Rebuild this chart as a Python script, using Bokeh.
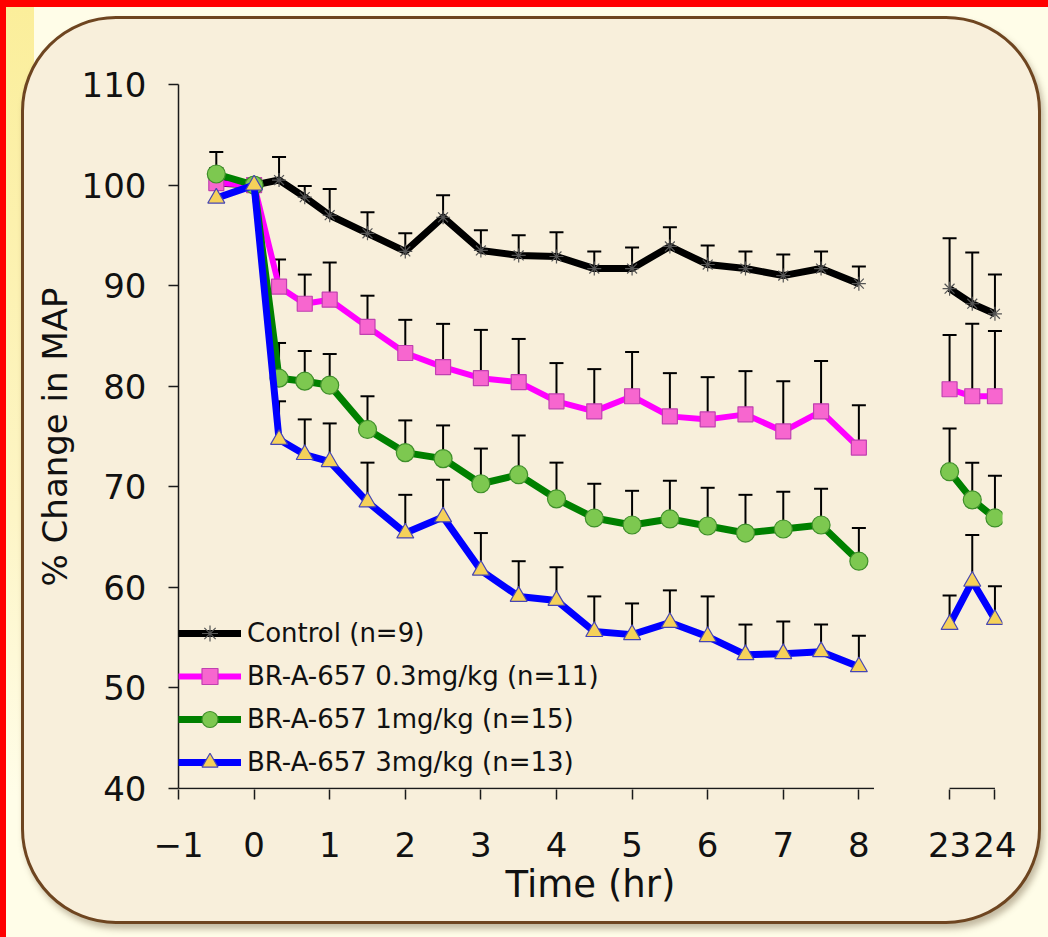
from bokeh.plotting import figure
from bokeh.layouts import column
from bokeh.models import (ColumnDataSource, Whisker, TeeHead, FixedTicker, Range1d)
from bokeh.embed import file_html
from bokeh.resources import INLINE

# ---------------- data ----------------
hours = [-0.5, 0, 0.33, 0.67, 1, 1.5, 2, 2.5, 3, 3.5, 4, 4.5, 5, 5.5, 6,
         6.5, 7, 7.5, 8, 23, 23.5, 24]

control_mean = [100.2, 100, 100.5, 98.8, 97.0, 95.2, 93.4, 96.8, 93.5, 93.0, 92.9,
                91.7, 91.7, 93.9, 92.1, 91.7, 91.0, 91.7, 90.2, 89.7, 88.2, 87.2]
control_sem = [1.5, 0, 2.3, 1.1, 2.6, 2.1, 1.8, 2.2, 2.0, 2.0, 2.4,
               1.7, 2.1, 1.9, 1.9, 1.7, 2.1, 1.7, 1.7, 5.0, 5.1, 3.9]

dose03_mean = [100.2, 100, 89.9, 88.2, 88.6, 85.9, 83.3, 81.9, 80.8, 80.4, 78.5,
               77.5, 79.0, 77.0, 76.7, 77.2, 75.5, 77.5, 73.9, 79.7, 79.0, 79.0]
dose03_sem = [0, 0, 2.7, 2.9, 3.7, 3.1, 3.3, 4.3, 4.8, 4.3, 3.8,
              4.2, 4.4, 4.3, 4.2, 4.3, 5.0, 5.0, 4.2, 5.4, 7.2, 6.5]

dose1_mean = [101.1, 100, 80.8, 80.5, 80.1, 75.7, 73.4, 72.8, 70.3, 71.2, 68.8,
              66.9, 66.2, 66.8, 66.1, 65.4, 65.8, 66.2, 62.6, 71.5, 68.7, 66.9]
dose1_sem = [2.2, 0, 3.5, 3.0, 3.1, 3.3, 3.2, 3.3, 3.5, 3.9, 3.6,
             3.4, 3.4, 3.8, 3.8, 3.8, 3.7, 3.6, 3.3, 4.3, 3.7, 4.2]

dose3_mean = [98.7, 100, 74.7, 73.2, 72.5, 68.5, 65.4, 67.0, 61.7, 59.1, 58.7,
              55.6, 55.3, 56.5, 55.1, 53.3, 53.4, 53.6, 52.1, 56.3, 60.6, 56.8]
dose3_sem = [0, 0, 3.8, 3.5, 3.8, 3.9, 3.8, 3.7, 3.7, 3.5, 3.3,
             3.5, 3.1, 3.2, 4.0, 3.0, 3.2, 2.7, 3.1, 2.9, 4.6, 3.3]

series_labels = ["Control (n=9)", "BR-A-657 0.3mg/kg (n=11)",
                 "BR-A-657 1mg/kg (n=15)", "BR-A-657 3mg/kg (n=13)"]

x_tick_values = [-1, 0, 1, 2, 3, 4, 5, 6, 7, 8, 23, 24]
x_tick_labels = ["\u22121", "0", "1", "2", "3", "4", "5", "6", "7", "8", "23", "24"]
y_tick_values = [40, 50, 60, 70, 80, 90, 100, 110]

x_axis_title = "Time (hr)"
y_axis_title = "% Change in MAP"

# ---------------- broken time axis ----------------
EARLY_END = 8          # last hour of the first segment
LATE_START = 23        # first hour of the second segment
LATE_END = 24          # last hour of the second segment
LATE_POS = 9.2         # where hour 23 sits on the drawn axis
LATE_SCALE = 0.6       # compressed scale of the second segment
AXIS_OVERHANG = 0.2    # first axis segment runs a little past hour 8


def axis_pos(h):
    return float(h) if h <= EARLY_END else LATE_POS + (h - LATE_START) * LATE_SCALE


PANEL = "#f8efdb"
PAGE = "#fffde8"
FONT = "DejaVu Sans"
AXIS_COLOR = "#1a1a1a"

FW, FH = 1014, 902
p = figure(width=FW, height=FH, output_backend="svg", toolbar_location=None,
           x_range=Range1d(-1, 9.9), y_range=Range1d(39.9, 110),
           min_border_left=154, min_border_right=36, min_border_top=65,
           min_border_bottom=132, background_fill_color=None,
           border_fill_color=None, outline_line_color=None)
p.grid.visible = False

# ---------------- broken x-axis line (two pieces at y = 40) ----------------
p.segment(x0=[axis_pos(x_tick_values[0]), axis_pos(LATE_START)],
          x1=[axis_pos(EARLY_END) + AXIS_OVERHANG, axis_pos(LATE_END)],
          y0=[y_tick_values[0]] * 2, y1=[y_tick_values[0]] * 2,
          line_color=AXIS_COLOR, line_width=1.5)

# ---------------- series ----------------
styles = [
    dict(color="#000000", lw=7, marker="asterisk", size=14, fill="#555555", edge="#555555"),
    dict(color="#ff00ff", lw=6, marker="square", size=15, fill="#f766cf", edge="#c040b0"),
    dict(color="#008000", lw=7, marker="circle", size=18, fill="#7dc850", edge="#3f8f2a"),
    dict(color="#0000ff", lw=7, marker="triangle", size=17, fill="#f5d15a", edge="#4646b4"),
]
means = [control_mean, dose03_mean, dose1_mean, dose3_mean]
sems = [control_sem, dose03_sem, dose1_sem, dose3_sem]

xs = [axis_pos(h) for h in hours]

# error bars first (drawn beneath lines)
for m, s in zip(means, sems):
    keep = [i for i in range(len(hours)) if s[i] > 0]
    src = ColumnDataSource(dict(base=[xs[i] for i in keep],
                                lower=[m[i] for i in keep],
                                upper=[m[i] + s[i] for i in keep]))
    w = Whisker(base="base", lower="lower", upper="upper", source=src,
                dimension="height", line_color="#000000", line_width=2,
                upper_head=TeeHead(size=14, line_color="#000000", line_width=2),
                lower_head=None, level="underlay")
    p.add_layout(w)

for label, m, st in zip(series_labels, means, styles):
    early = [i for i, h in enumerate(hours) if h <= EARLY_END]
    late = [i for i, h in enumerate(hours) if h > EARLY_END]
    p.line([xs[i] for i in early], [m[i] for i in early], line_color=st["color"],
           line_width=st["lw"], line_join="round", legend_label=label)
    p.line([xs[i] for i in late], [m[i] for i in late], line_color=st["color"],
           line_width=st["lw"], line_join="round")
    p.scatter(xs, m, marker=st["marker"], size=st["size"], fill_color=st["fill"],
              line_color=st["edge"], line_width=1.2, legend_label=label)

# ---------------- axes ----------------
xa = p.xaxis[0]
xa.ticker = FixedTicker(ticks=[axis_pos(v) for v in x_tick_values])
xa.major_label_overrides = {axis_pos(v): lab for v, lab in zip(x_tick_values, x_tick_labels)}
xa.axis_label = x_axis_title
xa.major_label_standoff = 32
xa.axis_label_standoff = 3
xa.axis_line_color = None

ya = p.yaxis[0]
ya.ticker = FixedTicker(ticks=y_tick_values)
ya.bounds = (y_tick_values[0], y_tick_values[-1])
ya.axis_label = y_axis_title
ya.major_label_standoff = 22
ya.axis_label_standoff = 4
ya.axis_line_color = AXIS_COLOR
ya.axis_line_width = 1.5

for ax in (xa, ya):
    ax.major_tick_line_color = AXIS_COLOR
    ax.major_tick_line_width = 1.5
    ax.major_tick_in = 0
    ax.major_tick_out = 10
    ax.minor_tick_line_color = None
    ax.major_label_text_font = FONT
    ax.major_label_text_font_size = "34px"
    ax.major_label_text_color = "#111111"
    ax.axis_label_text_font = FONT
    ax.axis_label_text_font_style = "normal"
    ax.axis_label_text_color = "#111111"
xa.axis_label_text_font_size = "37px"
ya.axis_label_text_font_size = "34px"

# ---------------- legend ----------------
lg = p.legend[0]
lg.location = (0, 7)
lg.background_fill_alpha = 0
lg.border_line_alpha = 0
lg.padding = 0
lg.margin = 0
lg.spacing = 3
lg.glyph_width = 63
lg.glyph_height = 40
lg.label_height = 40
lg.label_standoff = 6
lg.label_text_font = FONT
lg.label_text_font_size = "26px"
lg.label_text_color = "#111111"

# ---------------- rounded parchment panel and page background (CSS) ----------------
panel = column(p, styles={
    "border": "3px solid #6e4520",
    "border-radius": "95px",
    "background-color": PANEL,
    "box-shadow": "3px 5px 6px rgba(80, 60, 30, 0.35)",
})
page = column(panel, styles={
    "padding": "16px 7px 13px 21px",
    "background": ("linear-gradient(to right, #ff0000 6px, transparent 6px), "
                   "linear-gradient(to bottom, #ff0000 7px, transparent 7px), "
                   "linear-gradient(to bottom, #fbee9a 0%, #fdf5c6 55%, " + PAGE + " 85%) "
                   "0 0 / 34px 100% no-repeat, " + PAGE),
})

open("out.html", "w").write(file_html(page, INLINE))
